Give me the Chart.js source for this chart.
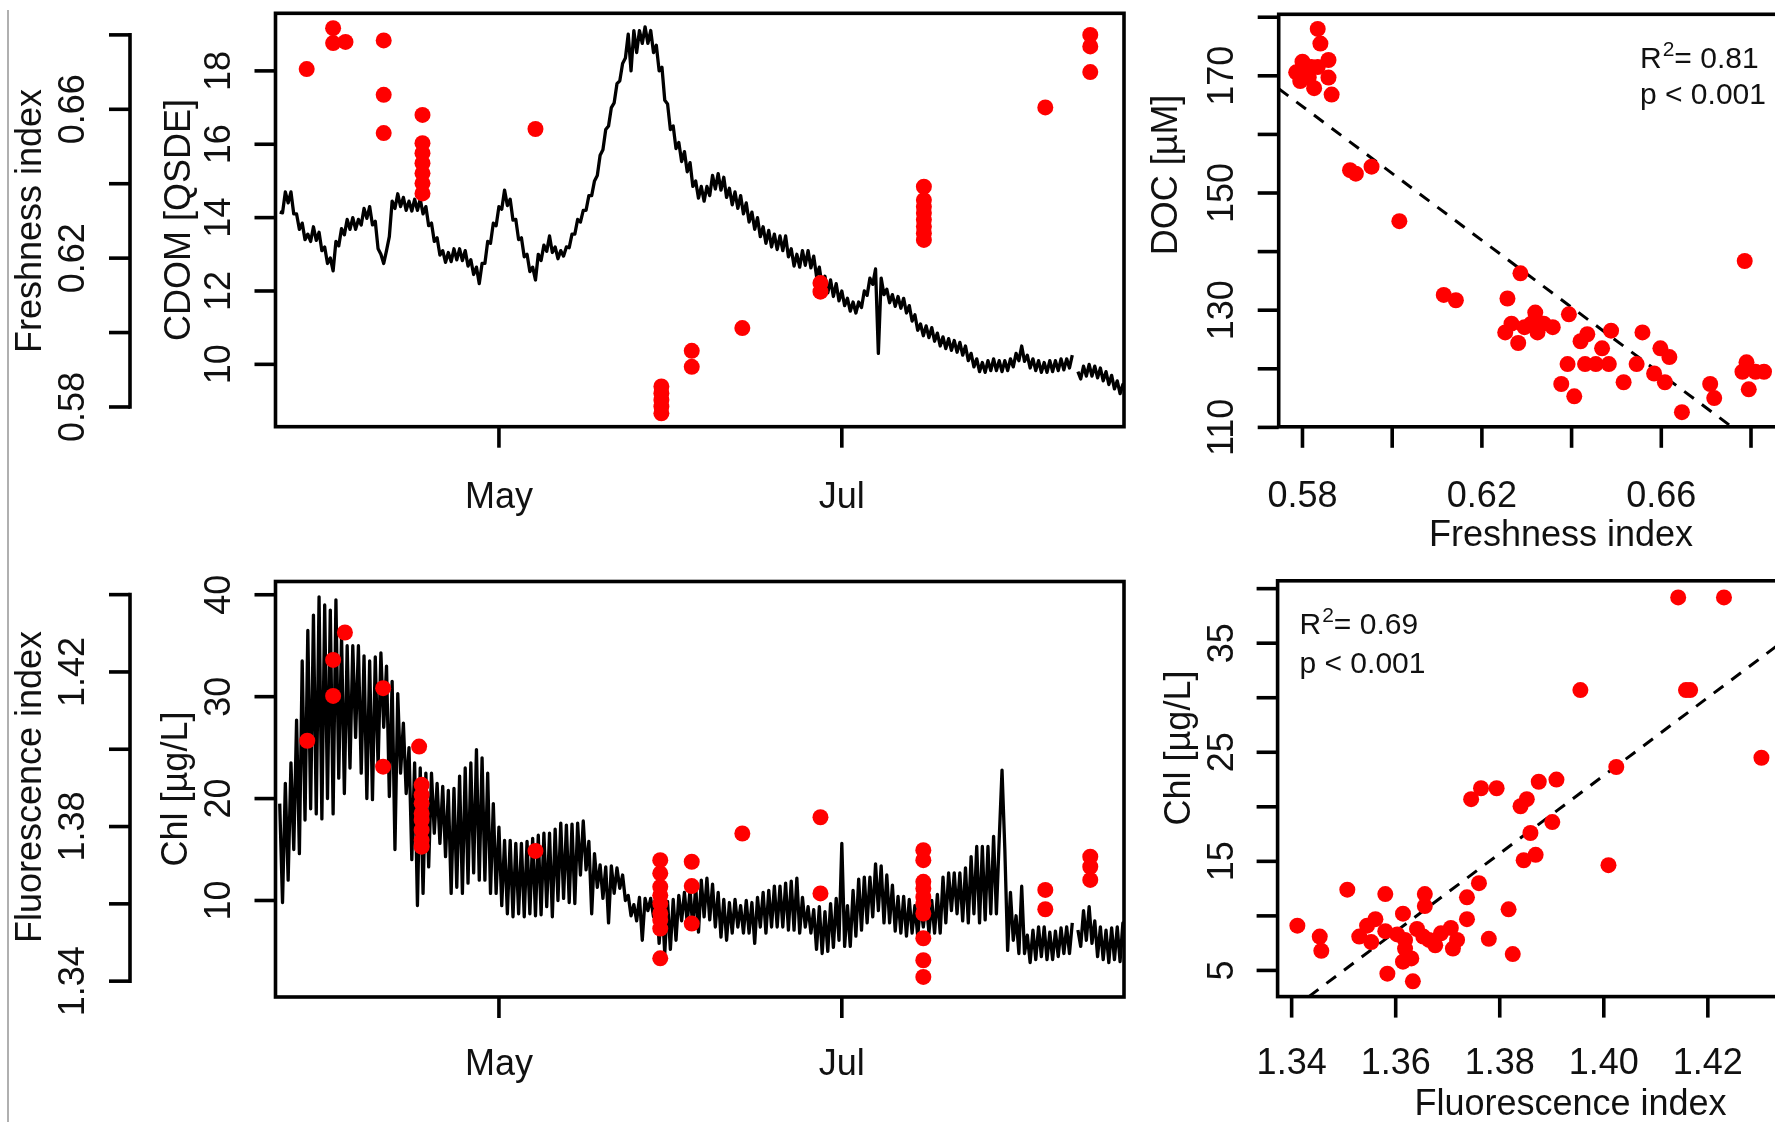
<!DOCTYPE html>
<html><head><meta charset="utf-8">
<script src="https://cdn.jsdelivr.net/npm/chart.js@4.4.0/dist/chart.umd.min.js"></script>
<style>
html,body{margin:0;padding:0;background:#fff;}
#page{position:relative;width:1775px;height:1122px;overflow:hidden;background:#fff;}
canvas{position:absolute;}
#edge{position:absolute;left:7px;top:10px;width:2px;height:1112px;background:#b0b0b0;}
</style></head><body>
<div id="page">
<div id="edge"></div>
<canvas id="cTL" width="1140" height="560" style="left:0px;top:0px"></canvas>
<canvas id="cBL" width="1140" height="562" style="left:0px;top:560px"></canvas>
<canvas id="cTR" width="760" height="560" style="left:1140px;top:0px"></canvas>
<canvas id="cBR" width="760" height="562" style="left:1140px;top:560px"></canvas>
</div>
<script>
// ---------------- DATA ----------------
// Time axis: days relative to 1 May; high-frequency series given as one value per day (peak) and half a day later (dip)
const seriesStartDay = -39;
const monthTickDays = [0, 61];
const monthTickLabels = ['May', 'Jul'];

const cdomPeak = [
 14.15,14.7,14.7,14.1,13.85,13.55,13.75,13.6,13.2,12.9,
 13.35,13.7,13.95,14.0,13.95,14.25,14.3,13.9,13.0,13.1,
 14.45,14.65,14.55,14.45,14.5,14.5,14.3,13.85,13.45,13.1,
 13.05,13.15,13.15,13.1,12.85,12.65,12.75,13.35,13.85,14.3,
 14.75,14.5,13.95,13.45,13.0,12.65,13.0,13.25,13.5,13.2,
 13.1,13.2,13.55,13.95,14.2,14.6,15.0,15.7,16.4,17.0,
 17.65,18.2,19.0,19.1,19.1,19.2,19.1,18.7,18.1,17.1,
 16.5,16.05,15.8,15.5,15.0,14.85,14.85,15.15,15.2,15.1,
 14.8,14.7,14.6,14.4,14.15,14.0,13.75,13.65,13.55,13.5,
 13.5,13.15,13.0,13.1,13.1,12.95,12.65,12.4,12.3,12.2,
 12.0,11.8,11.7,11.7,12.0,12.35,12.6,12.35,12.05,11.9,
 11.85,11.8,11.6,11.35,11.1,11.05,11.0,10.85,10.75,10.7,
 10.65,10.6,10.5,10.3,10.15,10.05,10.1,10.15,10.1,10.1,
 10.15,10.3,10.5,10.25,10.15,10.1,10.05,10.1,10.1,10.15,
 10.15,10.25,9.8,9.95,10.0,9.95,9.9,9.8,9.7,9.55,9.45];
const cdomDip = [
 14.13,14.4,14.1,13.68,13.4,13.35,13.38,13.1,12.75,12.55,
 13.23,13.53,13.68,13.68,13.8,13.98,13.8,13.15,12.75,13.48,
 14.25,14.3,14.2,14.18,14.2,14.1,13.78,13.35,12.98,12.78,
 12.8,12.85,12.83,12.68,12.45,12.2,12.75,13.3,13.78,14.23,
 14.33,13.93,13.4,12.93,12.53,12.3,12.83,13.08,13.05,12.88,
 12.95,13.18,13.55,13.88,14.2,14.6,15.15,15.85,16.5,17.13,
 17.73,18.35,18.0,18.5,18.75,18.75,18.5,18.0,17.2,16.4,
 15.88,15.53,15.25,14.85,14.53,14.45,14.6,14.78,14.75,14.55,
 14.35,14.25,14.1,13.88,13.68,13.48,13.3,13.2,13.13,13.1,
 12.93,12.68,12.65,12.7,12.63,12.4,12.13,11.95,11.85,11.73,
 11.6,11.45,11.4,11.55,11.88,12.18,10.3,11.9,11.68,11.58,
 11.53,11.4,11.18,10.93,10.78,10.73,10.63,10.5,10.43,10.38,
 10.33,10.25,10.1,9.93,9.8,9.78,9.83,9.83,9.8,9.83,
 9.93,10.1,10.08,9.9,9.83,9.78,9.78,9.8,9.83,9.85,
 9.9,null,9.6,9.68,9.68,9.63,9.55,9.45,9.33,9.2,9.2];

const chlPeak = [
 19.5,21.5,23.5,27.7,33.5,36.5,38,39.8,39,38.5,
 39.5,36,35,35,35,34,33.5,33.9,34.3,33,
 31.5,30.3,27.4,25,23.5,23,22.5,22.5,21.5,21.2,
 20.8,21,22.2,23,23.5,24.8,24,22.5,19.5,17.2,
 15.9,15.9,15.6,15.6,15.8,16.1,16.4,16.6,16.6,17.0,
 17.6,17.4,17.5,17.6,17.8,15.8,14.6,13.5,13.3,13.4,
 13.2,12.5,10.5,9.6,10.3,10.2,10.2,10.4,9.8,9.9,
 10.1,10.5,10.8,11.1,11.4,12.0,12.2,11.6,10.8,10.1,
 9.8,10.1,9.5,10.0,9.8,10.3,10.8,11.0,11.4,11.4,
 11.7,11.9,12.2,10.3,9.4,9.1,9.4,8.9,9.7,10.2,
 15.6,9.5,11,12.1,12.3,12.3,13.6,13.4,12.5,11.5,
 10.4,10.4,10.1,9.5,9.6,10.0,10.0,10.6,12.3,12.7,
 12.7,12.7,13.2,14.3,15.3,15.3,15.3,16.3,16.0,15.0,
 10.8,8.5,11.4,6.6,7.1,7.4,7.4,6.9,7.0,7.3,
 7.4,7.8,7.1,9.0,9.4,8.0,7.4,7.1,7.3,7.4,7.8];
const chlDip = [
 9.8,12,15,14.6,17.9,19,18.5,18,20,18.5,
 22,20.5,23,26,22.5,20,19.9,23.1,27,20.2,
 15,22.5,20.5,14,9.5,10.7,13.3,16.6,15.6,14.3,
 10.7,11.3,10.7,11.7,12.7,12.0,12.0,10.7,10.7,9.5,
 8.7,8.4,8.7,8.4,8.7,8.5,8.6,9.4,8.4,10.0,
 10.2,9.8,9.7,12.5,13.0,8.7,11.3,10.2,7.8,10.7,
 11.2,10.0,8.5,8.0,6.1,9.0,8.4,5.8,4.8,5.2,
 6.1,8.0,7.8,7.2,6.9,8.4,8.1,7.4,6.4,6.1,
 6.8,7.4,6.8,6.8,5.8,7.4,6.8,7.4,7.4,7.4,
 7.1,7.1,6.8,7.4,6.8,5.2,4.8,5.0,5.4,6.1,
 5.5,5.5,6.5,7.1,7.8,8.4,9.0,7.8,7.8,7.0,
 6.8,6.5,6.8,6.5,7.4,6.8,6.8,6.8,7.8,9.0,
 8.7,8.0,7.8,8.7,7.8,8.1,8.7,8.7,22.8,5.1,
 6.1,4.8,4.8,3.9,4.2,4.5,4.2,4.2,4.5,4.8,
 4.8,null,5.5,6.1,5.8,4.5,4.2,3.9,4.2,4.0,3.9];

// Discrete samples (red points)
const freshDays = [-34.2,-29.5,-29.5,-27.3,-20.5,-20.5,-20.5,-13.6,-13.6,-13.6,-13.6,-13.6,-13.6,-13.6,6.5,
 28.9,28.9,28.9,28.9,28.9,34.3,34.3,43.3,57.2,57.2,75.6,75.6,75.6,75.6,75.6,75.6,75.6,75.6,97.2,105.2,105.2,105.2];
const freshValues = [0.6708,0.6818,0.6778,0.6781,0.6785,0.6639,0.6536,0.6585,0.6509,0.6482,0.6455,0.6428,0.6401,0.6374,0.6547,
 0.5855,0.5837,0.5819,0.5801,0.5783,0.5951,0.5908,0.6012,0.6133,0.6110,0.6392,0.6356,0.6338,0.6321,0.6303,0.6285,0.6267,0.6249,0.6605,0.6800,0.6769,0.6700];

const fluorDays = [-34.1,-29.5,-29.5,-27.4,-20.6,-20.6,-14.2,
 -13.75,-13.75,-13.75,-13.75,-13.75,-13.75,-13.75,-13.75,6.5,
 28.7,28.7,28.7,28.7,28.7,28.7,28.7,28.7,28.7,34.3,34.3,34.3,43.3,57.2,57.2,
 75.5,75.5,75.5,75.5,75.5,75.5,75.5,75.5,75.5,75.5,97.2,97.2,105.2,105.2,105.2];
const fluorValues = [1.4022,1.4231,1.4138,1.4302,1.4158,1.3955,1.4007,
 1.3908,1.3882,1.3860,1.3834,1.3817,1.3791,1.3765,1.3748,1.3737,
 1.3713,1.3679,1.3644,1.3622,1.3601,1.3575,1.3558,1.3536,1.3459,1.3709,1.3646,1.3549,1.3782,1.3824,1.3627,
 1.3739,1.3713,1.3657,1.3640,1.3618,1.3600,1.3575,1.3511,1.3454,1.3411,1.3636,1.3586,1.3722,1.3696,1.3662];

// Scatter: DOC vs Freshness index
const docFresh = [0.5786,0.5800,0.5808,0.5814,0.5826,0.5834,0.5840,0.5834,0.5858,0.5858,0.5865,0.5795,0.5820,
 0.5906,0.5919,0.5954,0.6016,0.6115,0.6142,0.6286,0.6257,
 0.6252,0.6266,0.6281,0.6295,0.6310,0.6319,0.6324,0.6338,0.6358,
 0.6394,0.6420,0.6435,0.6488,0.6468,0.6391,0.6430,0.6454,0.6483,
 0.6377,0.6406,0.6516,0.6545,0.6558,0.6598,0.6618,0.6584,0.6608,0.6646,
 0.6709,0.6718,0.6786,0.6781,0.6790,0.6795,0.6810,0.6829];
const docValues = [170.6,172.4,170.9,169.7,167.9,171.5,175.5,178.0,172.7,169.7,166.8,169.1,171.5,
 153.9,153.3,154.5,145.2,132.6,131.7,136.3,132.0,
 126.2,127.7,124.4,127.1,127.7,129.6,126.2,127.7,127.1,
 129.3,124.7,125.9,126.5,123.5,120.8,120.8,120.8,120.8,
 117.4,115.3,117.7,120.8,126.2,123.5,122.0,119.2,117.7,112.6,
 117.4,115.0,138.4,119.5,121.1,116.5,119.5,119.5];
const docFitX = [0.5747, 0.6757];
const docFitY = [167.8, 110.1];

// Scatter: Chl vs Fluorescence index
const chlFluor = [1.4143,1.4231,1.3955,1.4158,1.4166,1.4303,1.4024,
 1.3745,1.3764,1.3794,1.3840,1.3852,1.3875,1.3909,1.3901,1.3859,1.3846,1.3869,1.4009,
 1.3760,1.3737,1.3737,1.3656,1.3580,1.3507,1.3817,1.3614,1.3411,1.3454,1.3457,
 1.3530,1.3545,1.3561,1.3553,1.3580,1.3603,1.3618,1.3618,1.3630,1.3614,1.3641,1.3653,1.3664,1.3676,1.3687,1.3706,1.3718,1.3710,1.3656,
 1.3584,1.3633,1.3825,1.3779];
const chlValues = [39.2,39.2,30.7,30.7,30.7,24.5,23.65,
 20.7,21.7,21.7,20.05,20.7,22.3,22.5,18.6,17.6,15.1,15.6,14.65,
 13.0,11.7,9.7,12.0,12.0,12.4,10.6,10.2,9.1,8.1,6.8,
 8.1,9.1,9.7,7.6,8.6,8.3,7.8,7.0,6.1,5.8,8.8,8.1,7.8,7.3,8.4,8.9,7.8,7.0,10.9,
 4.7,4.0,6.5,7.9];
const chlFitX = [1.3433, 1.4499];
const chlFitY = [2.6, 40.7];

const fitStats = [{r2:'0.81', p:'0.001'}, {r2:'0.69', p:'0.001'}];

// Tick values / labels
const cdomTicks = [10,12,14,16,18];
const cdomTickLabels = ['10','12','14','16','18'];
const freshTicks = [0.58,0.60,0.62,0.64,0.66,0.68];
const freshTickLabels = ['0.58','','0.62','','0.66',''];
const chlTicks = [10,20,30,40];
const chlTickLabels = ['10','20','30','40'];
const fluorTicks = [1.34,1.36,1.38,1.40,1.42,1.44];
const fluorTickLabels = ['1.34','','1.38','','1.42',''];
const freshXTicks = [0.58,0.60,0.62,0.64,0.66,0.68,0.70];
const freshXTickLabels = ['0.58','','0.62','','0.66','','0.70'];
const docTicks = [110,120,130,140,150,160,170,180];
const docTickLabels = ['110','','130','','150','','170',''];
const fluorXTicks = [1.34,1.36,1.38,1.40,1.42,1.44];
const fluorXTickLabels = ['1.34','1.36','1.38','1.40','1.42','1.44'];
const chlYTicks = [5,10,15,20,25,30,35,40];
const chlYTickLabels = ['5','','15','','25','','35',''];

// ---------------- HELPERS ----------------
const RED = '#ff0000';
const INK = '#000000';
const FONT = '"Liberation Sans", Arial, Helvetica, sans-serif';
const TICK = 21;
const AXLW = 3.6;

function pairs(xs, ys){ return xs.map((x,i)=>({x:x, y:ys[i]})); }
function zigzag(peaks, dips){
  const pts = [];
  for (let i=0;i<peaks.length;i++){
    const d = seriesStartDay + i;
    pts.push({x:d, y:peaks[i]});
    pts.push({x:d+0.5, y:dips[i]});
  }
  return pts;
}

function rPanel(cfg){
  return { id:'rpanel', afterDraw(chart){
    const ctx = chart.ctx, a = chart.chartArea;
    ctx.save();
    ctx.strokeStyle = INK; ctx.fillStyle = '#111'; ctx.lineWidth = AXLW; ctx.lineCap = 'butt';
    ctx.strokeRect(a.left, a.top, a.right-a.left, a.bottom-a.top);
    ctx.font = '36px ' + FONT;
    ctx.textBaseline = 'alphabetic';
    for (const ax of cfg.xAxes){
      const s = chart.scales[ax.scale];
      ctx.textAlign = 'center';
      ax.ticks.forEach((v,i)=>{
        const x = s.getPixelForValue(v);
        if (x < a.left-1 || x > a.right+1) return;
        ctx.beginPath(); ctx.moveTo(x, a.bottom); ctx.lineTo(x, a.bottom+TICK); ctx.stroke();
        if (ax.labels[i]) ctx.fillText(ax.labels[i], x, ax.base);
      });
    }
    for (const ax of cfg.yAxes){
      const s = chart.scales[ax.scale];
      const x0 = (ax.axisX === undefined) ? a.left : ax.axisX;
      const ys = ax.ticks.map(v=>s.getPixelForValue(v));
      if (ax.line){
        ctx.beginPath(); ctx.moveTo(x0, Math.min(...ys)-AXLW/2); ctx.lineTo(x0, Math.max(...ys)+AXLW/2); ctx.stroke();
      }
      ys.forEach((y,i)=>{
        if (!ax.line && (y < a.top-1 || y > a.bottom+1)) return;
        ctx.beginPath(); ctx.moveTo(x0-TICK, y); ctx.lineTo(x0, y); ctx.stroke();
        if (ax.labels[i]){
          ctx.save(); ctx.translate(ax.base, y); ctx.rotate(-Math.PI/2);
          ctx.textAlign = 'center'; ctx.fillText(ax.labels[i], 0, 0); ctx.restore();
        }
      });
    }
    for (const t of cfg.titles){
      ctx.font = '36px ' + FONT;
      if (t.rot){
        ctx.save(); ctx.translate(t.x, t.y); ctx.rotate(-Math.PI/2);
        ctx.textAlign = 'center'; ctx.fillText(t.text, 0, 0); ctx.restore();
      } else {
        ctx.textAlign = 'center'; ctx.fillText(t.text, t.x, t.y);
      }
    }
    if (cfg.note){
      const n = cfg.note;
      ctx.textAlign = 'left';
      let x = n.x;
      ctx.font = '30px ' + FONT; ctx.fillText('R', x, n.base); x += ctx.measureText('R').width + 1;
      ctx.font = '21px ' + FONT; ctx.fillText('2', x, n.base - 12); x += ctx.measureText('2').width;
      ctx.font = '30px ' + FONT; ctx.fillText('= ' + n.stats.r2, x, n.base);
      ctx.fillText('p < ' + n.stats.p, n.x, n.pBase);
    }
    ctx.restore();
  }};
}

function baseOptions(padding, scales){
  return {
    responsive:false, animation:false, devicePixelRatio:1, events:[],
    layout:{padding:padding},
    plugins:{legend:{display:false}, tooltip:{enabled:false}, title:{display:false}},
    scales:scales
  };
}
function lin(min,max,pos){ return {type:'linear', display:false, min:min, max:max, position:pos||'left'}; }

const pointStyle = {pointRadius:8, pointBackgroundColor:RED, pointBorderWidth:0, pointHoverRadius:8, showLine:false};
const lineStyle = {showLine:true, borderColor:INK, borderWidth:3.3, pointRadius:0, tension:0, spanGaps:false, borderJoinStyle:'round'};
const fitStyle = {showLine:true, borderColor:INK, borderWidth:3, borderDash:[12,10], pointRadius:0, tension:0};

// ---------------- TOP LEFT: CDOM time series + Freshness index ----------------
new Chart(document.getElementById('cTL'), {
  type:'scatter',
  data:{datasets:[
    Object.assign({label:'Freshness index', data:pairs(freshDays, freshValues), xAxisID:'x', yAxisID:'yF', order:0}, pointStyle),
    Object.assign({label:'CDOM', data:zigzag(cdomPeak, cdomDip), xAxisID:'x', yAxisID:'y', order:1}, lineStyle)
  ]},
  options: baseOptions({left:275.5, top:13.3, right:16, bottom:133.3},
    {x:lin(-39.75, 111.2, 'bottom'), y:lin(8.30, 19.57), yF:lin(0.5747, 0.6858)}),
  plugins:[rPanel({
    xAxes:[{scale:'x', ticks:monthTickDays, labels:monthTickLabels, base:508}],
    yAxes:[{scale:'y', ticks:cdomTicks, labels:cdomTickLabels, base:230},
           {scale:'yF', ticks:freshTicks, labels:freshTickLabels, axisX:130, line:true, base:84}],
    titles:[{text:'CDOM [QSDE]', x:190, y:220, rot:true},{text:'Freshness index', x:41, y:221, rot:true}]
  })]
});

// ---------------- BOTTOM LEFT: Chl time series + Fluorescence index ----------------
new Chart(document.getElementById('cBL'), {
  type:'scatter',
  data:{datasets:[
    Object.assign({label:'Fluorescence index', data:pairs(fluorDays, fluorValues), xAxisID:'x', yAxisID:'yFl', order:0}, pointStyle),
    Object.assign({label:'Chl', data:zigzag(chlPeak, chlDip), xAxisID:'x', yAxisID:'y', order:1}, lineStyle)
  ]},
  options: baseOptions({left:275.5, top:21.5, right:16, bottom:125},
    {x:lin(-39.75, 111.2, 'bottom'), y:lin(0.53, 41.3), yFl:lin(1.3359, 1.4434)}),
  plugins:[rPanel({
    xAxes:[{scale:'x', ticks:monthTickDays, labels:monthTickLabels, base:515}],
    yAxes:[{scale:'y', ticks:chlTicks, labels:chlTickLabels, base:230},
           {scale:'yFl', ticks:fluorTicks, labels:fluorTickLabels, axisX:130, line:true, base:84}],
    titles:[{text:'Chl [\u00b5g/L]', x:187, y:229, rot:true},{text:'Fluorescence index', x:41, y:227, rot:true}]
  })]
});

// ---------------- TOP RIGHT: DOC vs Freshness index ----------------
new Chart(document.getElementById('cTR'), {
  type:'scatter',
  data:{datasets:[
    Object.assign({label:'DOC', data:pairs(docFresh, docValues), order:0}, pointStyle),
    Object.assign({label:'fit', data:pairs(docFitX, docFitY), order:1}, fitStyle)
  ]},
  options: baseOptions({left:138.7, top:14.3, right:57.5, bottom:133.2},
    {x:lin(0.5747, 0.7004, 'bottom'), y:lin(110.1, 180.5)}),
  plugins:[rPanel({
    xAxes:[{scale:'x', ticks:freshXTicks, labels:freshXTickLabels, base:507}],
    yAxes:[{scale:'y', ticks:docTicks, labels:docTickLabels, base:93}],
    titles:[{text:'DOC [\u00b5M]', x:37, y:175, rot:true},{text:'Freshness index', x:421, y:546, rot:false}],
    note:{x:500, base:68, pBase:104, stats:fitStats[0]}
  })]
});

// ---------------- BOTTOM RIGHT: Chl vs Fluorescence index ----------------
new Chart(document.getElementById('cBR'), {
  type:'scatter',
  data:{datasets:[
    Object.assign({label:'Chl', data:pairs(chlFluor, chlValues), order:0}, pointStyle),
    Object.assign({label:'fit', data:pairs(chlFitX, chlFitY), order:1}, fitStyle)
  ]},
  options: baseOptions({left:137.6, top:20.8, right:36.6, bottom:125.4},
    {x:lin(1.3373, 1.4499, 'bottom'), y:lin(2.6, 40.72)}),
  plugins:[rPanel({
    xAxes:[{scale:'x', ticks:fluorXTicks, labels:fluorXTickLabels, base:514}],
    yAxes:[{scale:'y', ticks:chlYTicks, labels:chlYTickLabels, base:93}],
    titles:[{text:'Chl [\u00b5g/L]', x:50, y:188, rot:true},{text:'Fluorescence index', x:430.5, y:555, rot:false}],
    note:{x:159.5, base:73.5, pBase:113, stats:fitStats[1]}
  })]
});
</script>
</body></html>
